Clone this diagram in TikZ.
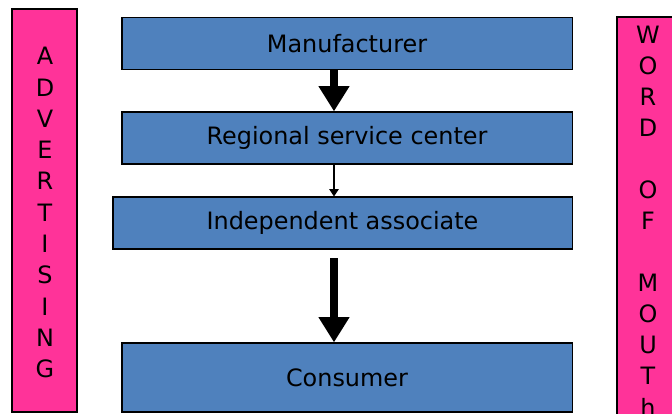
\documentclass[tikz,border=0pt]{standalone}
\usepackage{fontspec}
\setmainfont{DejaVu Sans}
\usetikzlibrary{arrows.meta}
\definecolor{stepblue}{HTML}{4F81BD}
\definecolor{barpink}{HTML}{FF3399}
\tikzset{
  stage/.style={draw=black,line width=0.8pt,fill=stepblue,inner sep=0pt,
    minimum width=11.25cm,minimum height=1.3cm,font=\fontsize{17}{20}\selectfont},
  bar/.style={draw=black,line width=0.8pt,fill=barpink},
  letter/.style={inner sep=0pt,font=\fontsize{17}{20}\selectfont},
  bigarrow/.style={line width=0.22cm,-{Triangle[width=0.73cm,length=0.63cm]}},
  smallarrow/.style={line width=0.9pt,-{Triangle[width=0.23cm,length=0.18cm]}}
}
\begin{document}
\begin{tikzpicture}[x=0.025cm,y=-0.025cm]
 \useasboundingbox (0,0) rectangle (672,414);
 \clip (0,0) rectangle (672,414);
 % side bars
 \draw[bar] (12,9) rectangle (77,412);
 \draw[bar] (617,17) rectangle (690,430);
 \foreach \c [count=\i] in {A,D,V,E,R,T,I,S,I,N,G}
  \node[letter] (adv\i) at (45,{56+31.3*(\i-1)}) {\c};
 \foreach \c/\k [count=\i] in {W/0,O/1,R/2,D/3,O/5,F/6,M/8,O/9,U/10,T/11,h/12}
  \node[letter] (wom\i) at (648,{35+31*\k}) {\c};
 % chain of boxes
 \node[stage] (man) at (347,43.5) {Manufacturer};
 \node[stage] (reg) at (347,138) {Regional service center};
 \node[stage,minimum width=11.475cm] (ind) at (342.5,223) {Independent associate};
 \node[stage,minimum height=1.725cm] (con) at (347,377.5) {Consumer};
 \coordinate (axis) at (334,0);
 \coordinate (gap) at (334,258);
 \draw[bigarrow] (man.south -| axis) -- (reg.north -| axis);
 \draw[smallarrow] (reg.south -| axis) -- (ind.north -| axis);
 \draw[bigarrow] (gap) -- (con.north -| axis);
\end{tikzpicture}
\end{document}
